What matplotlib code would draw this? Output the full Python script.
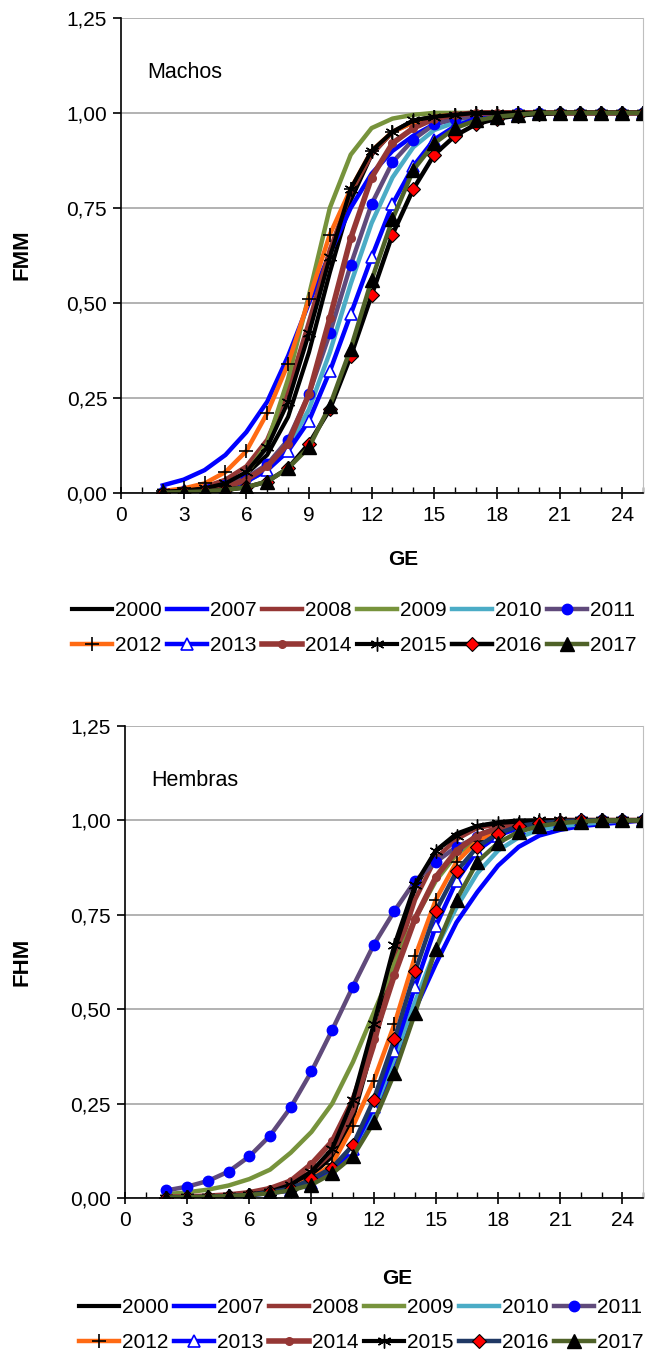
import numpy as np
import matplotlib
matplotlib.use("Agg")
import matplotlib.pyplot as plt
from matplotlib.ticker import FuncFormatter, MultipleLocator

plt.rcParams['font.family'] = ['Liberation Sans', 'DejaVu Sans']

# edad (GE) 2..25
ge = list(range(2, 26))
years = ["2000", "2007", "2008", "2009", "2010", "2011",
         "2012", "2013", "2014", "2015", "2016", "2017"]

# Machos (FMM)
m2000 = [.003, .006, .012, .025, .05, .10, .20, .37, .58, .77, .89, .95, .98, .99, .995, 1, 1, 1, 1, 1, 1, 1, 1, 1]
m2007 = [.02, .035, .06, .10, .16, .24, .36, .50, .63, .75, .84, .90, .94, .97, .985, .99, .995, 1, 1, 1, 1, 1, 1, 1]
m2008 = [.004, .008, .016, .035, .07, .14, .27, .45, .64, .79, .89, .95, .975, .99, .995, 1, 1, 1, 1, 1, 1, 1, 1, 1]
m2009 = [.001, .002, .005, .015, .05, .13, .30, .52, .75, .89, .96, .985, .995, 1, 1, 1, 1, 1, 1, 1, 1, 1, 1, 1]
m2010 = [.002, .004, .008, .015, .03, .06, .12, .22, .37, .55, .71, .83, .91, .955, .975, .99, .995, 1, 1, 1, 1, 1, 1, 1]
m2011 = [.003, .006, .012, .02, .04, .075, .14, .26, .42, .60, .76, .87, .93, .97, .985, .99, .995, 1, 1, 1, 1, 1, 1, 1]
m2012 = [.005, .012, .025, .055, .11, .21, .34, .51, .68, .80, .90, .95, .975, .99, .995, 1, 1, 1, 1, 1, 1, 1, 1, 1]
m2013 = [.002, .004, .008, .015, .03, .06, .11, .19, .32, .47, .62, .76, .86, .93, .965, .985, .99, .995, 1, 1, 1, 1, 1, 1]
m2014 = [.002, .004, .008, .015, .035, .07, .13, .26, .46, .67, .83, .92, .96, .985, .995, 1, 1, 1, 1, 1, 1, 1, 1, 1]
m2015 = [.003, .006, .012, .025, .055, .12, .24, .42, .62, .80, .90, .95, .98, .99, .995, 1, 1, 1, 1, 1, 1, 1, 1, 1]
m2016 = [.001, .002, .004, .008, .015, .03, .065, .13, .22, .36, .52, .68, .80, .89, .94, .97, .985, .993, .997, 1, 1, 1, 1, 1]
m2017 = [.001, .002, .004, .008, .015, .03, .065, .12, .23, .38, .56, .72, .85, .92, .96, .98, .99, .995, 1, 1, 1, 1, 1, 1]

# Hembras (FHM)
f2000 = [.001, .002, .003, .005, .008, .015, .03, .06, .11, .21, .41, .65, .82, .92, .965, .985, .995, 1, 1, 1, 1, 1, 1, 1]
f2007 = [.001, .002, .003, .005, .008, .013, .02, .04, .07, .13, .22, .35, .50, .62, .73, .81, .88, .93, .96, .975, .985, .99, .995, 1]
f2008 = [.002, .003, .005, .008, .013, .022, .04, .07, .12, .23, .40, .62, .79, .90, .95, .98, .99, .995, 1, 1, 1, 1, 1, 1]
f2009 = [.01, .015, .022, .033, .05, .075, .12, .175, .25, .36, .49, .62, .74, .84, .91, .95, .975, .99, .995, 1, 1, 1, 1, 1]
f2010 = [.001, .002, .003, .005, .008, .013, .022, .04, .07, .13, .23, .37, .52, .66, .77, .86, .92, .955, .975, .985, .99, .995, 1, 1]
f2011 = [.02, .03, .045, .07, .11, .165, .24, .335, .445, .56, .67, .76, .84, .89, .93, .955, .97, .98, .99, .995, 1, 1, 1, 1]
f2012 = [.001, .002, .003, .005, .008, .015, .03, .05, .09, .19, .31, .46, .64, .79, .89, .945, .975, .99, .995, 1, 1, 1, 1, 1]
f2013 = [.001, .002, .003, .005, .008, .013, .022, .04, .07, .13, .24, .39, .56, .72, .84, .92, .96, .98, .99, .995, 1, 1, 1, 1]
f2014 = [.002, .003, .005, .008, .014, .025, .045, .09, .15, .26, .42, .59, .74, .85, .92, .96, .98, .99, .995, 1, 1, 1, 1, 1]
f2015 = [.001, .002, .003, .005, .009, .017, .035, .07, .13, .26, .46, .67, .83, .92, .96, .985, .993, .997, 1, 1, 1, 1, 1, 1]
f2016 = [.001, .002, .003, .005, .008, .015, .025, .05, .08, .14, .26, .42, .60, .76, .865, .93, .965, .985, .993, .997, 1, 1, 1, 1]
f2017 = [.001, .002, .003, .005, .008, .012, .02, .035, .065, .11, .20, .33, .49, .66, .79, .89, .94, .97, .985, .993, .997, 1, 1, 1]

machos = [m2000, m2007, m2008, m2009, m2010, m2011, m2012, m2013, m2014, m2015, m2016, m2017]
hembras = [f2000, f2007, f2008, f2009, f2010, f2011, f2012, f2013, f2014, f2015, f2016, f2017]

asterisk = (6, 2, 0)
styles = [
    dict(color="black", lw=3.0),
    dict(color="#0000FF", lw=3.2),
    dict(color="#953735", lw=3.2),
    dict(color="#77933C", lw=3.2),
    dict(color="#4BACC6", lw=3.2),
    dict(color="#604A7B", lw=3.2, marker="o", ms=7.5, mfc="#0000FF", mec="#0000FF"),
    dict(color="#FF6A13", lw=3.2, marker="+", ms=10, mfc="black", mec="black", mew=1.2),
    dict(color="#0000FF", lw=3.2, marker="^", ms=8.5, mfc="white", mec="#0000FF", mew=1.2),
    dict(color="#953735", lw=4.0, marker="o", ms=5.5, mfc="#953735", mec="#953735"),
    dict(color="black", lw=3.0, marker=asterisk, ms=10, mfc="black", mec="black", mew=1.0),
    dict(color="black", lw=3.2, marker="D", ms=7.5, mfc="#FF0000", mec="black", mew=0.8),
    dict(color="#4F6228", lw=3.2, marker="^", ms=10.5, mfc="black", mec="black"),
]

fmt = FuncFormatter(lambda v, p: ("%.2f" % v).replace(".", ","))


def draw(ax, series, label, navy2016=False):
    handles = []
    for i, (yr, vals) in enumerate(zip(years, series)):
        st = dict(styles[i])
        if navy2016 and yr == "2016":
            st["color"] = "#1F3864"
        (h,) = ax.plot(ge, vals, label=yr, solid_joinstyle="round", **st)
        handles.append(h)
    ax.set_xlim(0, 25)
    ax.set_ylim(0, 1.25)
    ax.yaxis.set_major_locator(MultipleLocator(0.25))
    ax.yaxis.set_major_formatter(fmt)
    ax.xaxis.set_major_locator(MultipleLocator(3))
    ax.xaxis.set_minor_locator(MultipleLocator(1))
    ax.grid(axis="y", color="#A6A6A6", lw=1.2)
    ax.set_axisbelow(True)
    ax.spines["top"].set_visible(False)
    ax.spines["right"].set_color("#BFBFBF")
    ax.spines["left"].set_linewidth(1.2)
    ax.spines["bottom"].set_linewidth(1.2)
    ax.tick_params(axis="y", direction="out", length=6, width=1.2, labelsize=15, pad=4)
    ax.tick_params(axis="x", which="major", direction="inout", length=9, width=1.2, labelsize=15, pad=5)
    ax.tick_params(axis="x", which="minor", direction="in", length=4, width=1.0)
    ax.text(0.05, 0.885, label, transform=ax.transAxes, fontsize=15.5, va="center", ha="left")
    return handles


fig = plt.figure(figsize=(6.5, 13.55), dpi=100)
ax1 = fig.add_axes([0.1862, 0.6362, 0.8031, 0.3506])
ax2 = fig.add_axes([0.1923, 0.1159, 0.7970, 0.3483])

h1 = draw(ax1, machos, "Machos")
h2 = draw(ax2, hembras, "Hembras", navy2016=True)

fig.text(22 / 650, 1 - 255 / 1355, "FMM", rotation=90, fontsize=16, fontweight="bold", ha="center", va="center")
fig.text(22 / 650, 1 - 962 / 1355, "FHM", rotation=90, fontsize=16, fontweight="bold", ha="center", va="center")
fig.text(403 / 650, 1 - 560 / 1355, "GE", fontsize=15, fontweight="bold", ha="center", va="center")
fig.text(397 / 650, 1 - 1278 / 1355, "GE", fontsize=15, fontweight="bold", ha="center", va="center")

# legend filled row by row (matplotlib fills by column)
order = [0, 6, 1, 7, 2, 8, 3, 9, 4, 10, 5, 11]
for hs, yc, xc in [(h1, 1 - 628 / 1355, 354 / 650), (h2, 1 - 1325 / 1355, 361 / 650)]:
    fig.legend([hs[i] for i in order], [years[i] for i in order], loc="center",
               bbox_to_anchor=(xc, yc), ncol=6, frameon=False, fontsize=15,
               handlelength=1.92, handletextpad=0.16, columnspacing=0.24,
               labelspacing=0.75, borderpad=0, numpoints=1)

fig.savefig("out.png", dpi=100)
